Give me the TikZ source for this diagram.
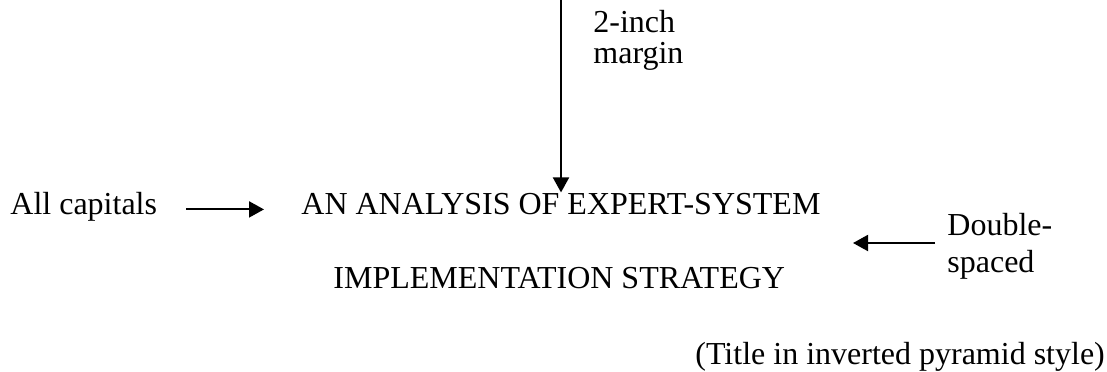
\documentclass[tikz,border=0pt]{standalone}
\usepackage{fontspec}
\setmainfont{Liberation Serif}
\usetikzlibrary{arrows.meta}

\tikzset{
  lbl/.style={inner sep=0pt, anchor=base west, font=\fontsize{16}{18}\selectfont},
  arr/.style={line width=1pt, -{Triangle[length=7.5pt,width=8pt]}}
}

\begin{document}
\begin{tikzpicture}[x=0.5pt, y=-0.5pt]
    \useasboundingbox (0,0) rectangle (1107,371);
    \node(margin)[lbl, align=left, font=\fontsize{16}{15.5}\selectfont] at (593,63) {2-inch\\margin};
    \node(caps)[lbl] at (10,214) {All capitals};
    \node(title1)[lbl] at (301,214) {AN ANALYSIS OF EXPERT-SYSTEM};
    \node(title2)[lbl] at (333,288) {IMPLEMENTATION STRATEGY};
    \node(dbl)[lbl, align=left, font=\fontsize{16}{18.5}\selectfont] at (947,272) {Double-\\spaced};
    \node(style)[lbl] at (695,364) {(Title in inverted pyramid style)};
    \coordinate(top) at (561,0);
    \coordinate(dbltip) at (853,243);
    \draw[arr] (top) -- (top |- title1.north);
    \draw[arr, shorten <=14.5pt, shorten >=18.5pt] (caps.mid east) -- (title1.mid west);
    \draw[arr, shorten <=6pt] (dbltip -| dbl.west) -- (dbltip);
\end{tikzpicture}
\end{document}
